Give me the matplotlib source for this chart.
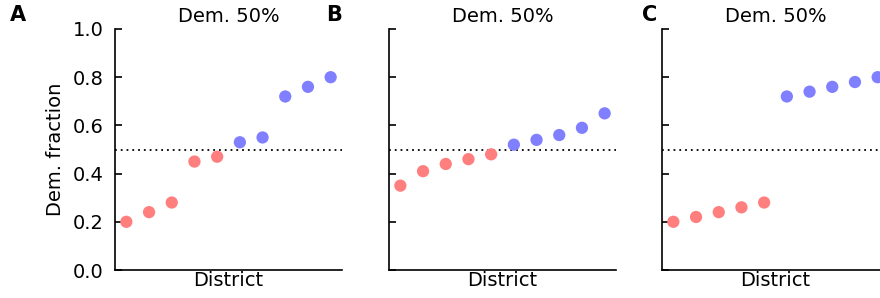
import numpy as np
import matplotlib
matplotlib.use("Agg")
import matplotlib.pyplot as plt

# vote share per district, sorted
dem_a = [0.20, 0.24, 0.28, 0.45, 0.47, 0.53, 0.55, 0.72, 0.76, 0.80]
dem_b = [0.35, 0.41, 0.44, 0.46, 0.48, 0.52, 0.54, 0.56, 0.59, 0.65]
dem_c = [0.20, 0.22, 0.24, 0.26, 0.28, 0.72, 0.74, 0.76, 0.78, 0.80]
panels = ["A", "B", "C"]
titles = ["Dem. 50%", "Dem. 50%", "Dem. 50%"]
yticks = [0.0, 0.2, 0.4, 0.6, 0.8, 1.0]

red = "#ff7f7f"
blue = "#7f7fff"

fig = plt.figure(figsize=(8.8, 2.98), dpi=100)
lefts = [115, 389, 662]
label_x = [10, 326, 642]
for i, vals in enumerate([dem_a, dem_b, dem_c]):
    ax = fig.add_axes([lefts[i] / 880, 1 - 270 / 298, 227 / 880, 241 / 298])
    x = np.arange(len(vals))
    v = np.array(vals)
    cols = [blue if val > 0.5 else red for val in v]
    ax.axhline(0.5, color="black", linestyle=(0, (1, 2.2)), linewidth=1.3, zorder=1)
    ax.scatter(x, v, c=cols, s=78, edgecolors="none", zorder=2)
    ax.set_xlim(-0.5, 9.5)
    ax.set_ylim(0, 1)
    ax.set_yticks(yticks)
    ax.set_xticks([])
    for s in ["top", "right"]:
        ax.spines[s].set_visible(False)
    ax.spines["left"].set_linewidth(1.2)
    ax.spines["bottom"].set_linewidth(1.2)
    ax.tick_params(axis="y", direction="in", length=5, width=1.2, labelsize=14, pad=8)
    if i == 0:
        ax.set_yticklabels(["%.1f" % t for t in yticks])
        ax.set_ylabel("Dem. fraction", fontsize=14, labelpad=6)
    else:
        ax.set_yticklabels([])
    ax.set_xlabel("District", fontsize=14, labelpad=1)
    ax.set_title(titles[i], fontsize=14, pad=5)
    fig.text(label_x[i] / 880, 1 - 5 / 298, panels[i], fontsize=15,
             fontweight="bold", ha="left", va="top")

fig.savefig("out.png", dpi=100)
